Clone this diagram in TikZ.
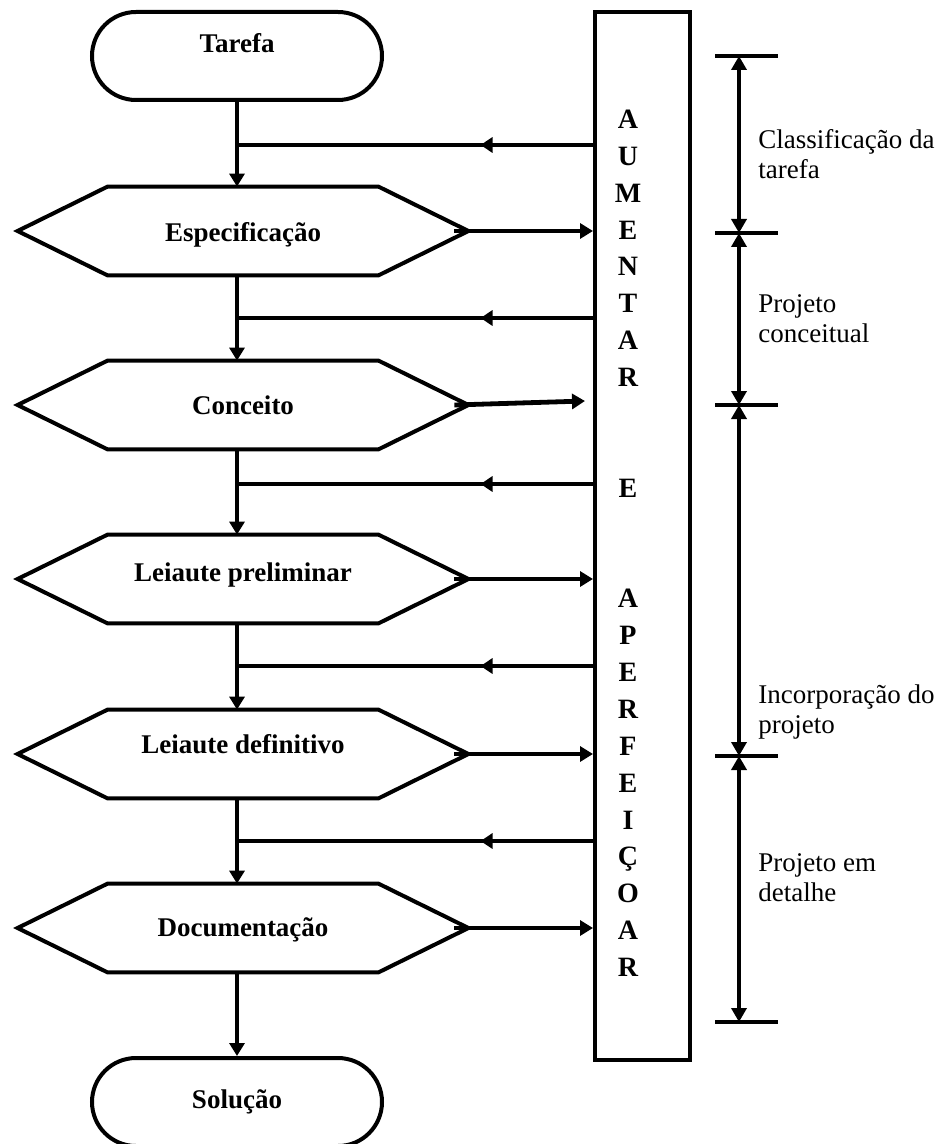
\documentclass[tikz,border=0pt]{standalone}
\usepackage{fontspec}
\setmainfont{Liberation Serif}
\usetikzlibrary{arrows.meta}
\usetikzlibrary{decorations.markings}

\tikzset{
	flow/.style={line width=2.4pt, -{Triangle[length=6.5pt,width=7.5pt]}},
	feedback/.style={line width=2.4pt, decoration={markings, mark=at position 0.316 with {\arrow{Triangle[length=6pt,width=7.5pt]}}}, postaction={decorate}},
	stadium/.style={draw, line width=2pt, rounded corners=22pt, minimum width=145pt, minimum height=44pt, inner sep=0pt, font=\fontsize{13.5}{15}\selectfont\bfseries},
	hexa/.style={minimum width=225pt, minimum height=44pt, inner sep=0pt, font=\fontsize{13.5}{15}\selectfont\bfseries},
	hexline/.style={line width=2pt, line join=miter},
	bigbar/.style={draw, line width=2pt, minimum width=47.5pt, minimum height=524pt, inner sep=0pt},
	letter/.style={inner sep=0pt, anchor=base, font=\fontsize{14}{16}\selectfont\bfseries},
	tick/.style={line width=2.4pt},
	span/.style={line width=2.4pt, {Triangle[length=7pt,width=7.5pt]}-{Triangle[length=7pt,width=7.5pt]}},
	phase/.style={anchor=west, align=left, inner sep=0pt, font=\fontsize{13.5}{15}\selectfont}
}
\newcommand{\hexagon}[1]{\draw[hexline] (#1.west) -- ([xshift=45pt]#1.north west) -- ([xshift=-45pt]#1.north east) -- (#1.east) -- ([xshift=-45pt]#1.south east) -- ([xshift=45pt]#1.south west) -- cycle;}
\newcommand{\lifted}[2]{\raisebox{#1}[\height][\depth]{#2}}

\begin{document}
\begin{tikzpicture}[x=0.5pt, y=-0.5pt]
	\useasboundingbox (0,0) rectangle (943,1144);
	\node[stadium] (tarefa) at (237,56) {\lifted{6.5pt}{Tarefa}};
	\node[hexa] (spec) at (243,231) {\lifted{-2pt}{Especificação}};
	\node[hexa] (conc) at (243,405) {Conceito};
	\node[hexa] (prelim) at (243,579) {\lifted{2pt}{Leiaute preliminar}};
	\node[hexa] (defin) at (243,754) {\lifted{5pt}{Leiaute definitivo}};
	\node[hexa] (docum) at (243,928) {\lifted{-1pt}{Documentação}};
	\node[stadium] (solucao) at (237,1102) {Solução};
	\hexagon{spec}
	\hexagon{conc}
	\hexagon{prelim}
	\hexagon{defin}
	\hexagon{docum}
	\node[bigbar] (bar) at (642.5,536) {};
	\foreach \ch/\k in {A/0,U/1,M/2,E/3,N/4,T/5,A/6,R/7,E/10,A/13,P/14,E/15,R/16,F/17,E/18,I/19,Ç/20,O/21,A/22,R/23}
	{
		\node[letter] (ch\k) at (628,128.5+\k*36.87) {\ch};
	}
	\draw[flow] (tarefa.south) -- (tarefa.south |- spec.north);
	\draw[flow] (spec.south -| tarefa) -- (conc.north -| tarefa);
	\draw[flow] (conc.south -| tarefa) -- (prelim.north -| tarefa);
	\draw[flow] (prelim.south -| tarefa) -- (defin.north -| tarefa);
	\draw[flow] (defin.south -| tarefa) -- (docum.north -| tarefa);
	\draw[flow] (docum.south -| tarefa) -- (solucao.north);
	\draw[flow] ([xshift=-7pt]spec.east) -- (spec.east -| bar.west);
	\draw[flow] ([xshift=-7pt]conc.east) -- ([shift={(-4pt,2pt)}]conc.east -| bar.west);
	\draw[flow] ([xshift=-7pt]prelim.east) -- (prelim.east -| bar.west);
	\draw[flow] ([xshift=-7pt]defin.east) -- (defin.east -| bar.west);
	\draw[flow] ([xshift=-7pt]docum.east) -- (docum.east -| bar.west);
	\coordinate (fb1) at (237,145);
	\coordinate (fb2) at (237,318);
	\coordinate (fb3) at (237,484);
	\coordinate (fb4) at (237,666);
	\coordinate (fb5) at (237,841);
	\foreach \i in {1,...,5}
	{
		\draw[feedback] (fb\i -| bar.west) -- (fb\i);
	}
	\coordinate (t1) at (739,56);
	\coordinate (t2) at (739,233);
	\coordinate (t3) at (739,405);
	\coordinate (t4) at (739,756);
	\coordinate (t5) at (739,1022);
	\foreach \i in {1,...,5}
	{
		\draw[tick] ([xshift=-12pt]t\i) -- ([xshift=19.5pt]t\i);
	}
	\draw[span] (t1) -- (t2);
	\draw[span] (t2) -- (t3);
	\draw[span] (t3) -- (t4);
	\draw[span] (t4) -- (t5);
	\node[phase] (ph1) at (758,154) {Classificação da\\tarefa};
	\node[phase] (ph2) at (758,319) {Projeto\\conceitual};
	\node[phase] (ph3) at (758,712) {Incorporação do\\projeto};
	\node[phase] (ph4) at (758,878) {Projeto em\\detalhe};
\end{tikzpicture}
\end{document}
